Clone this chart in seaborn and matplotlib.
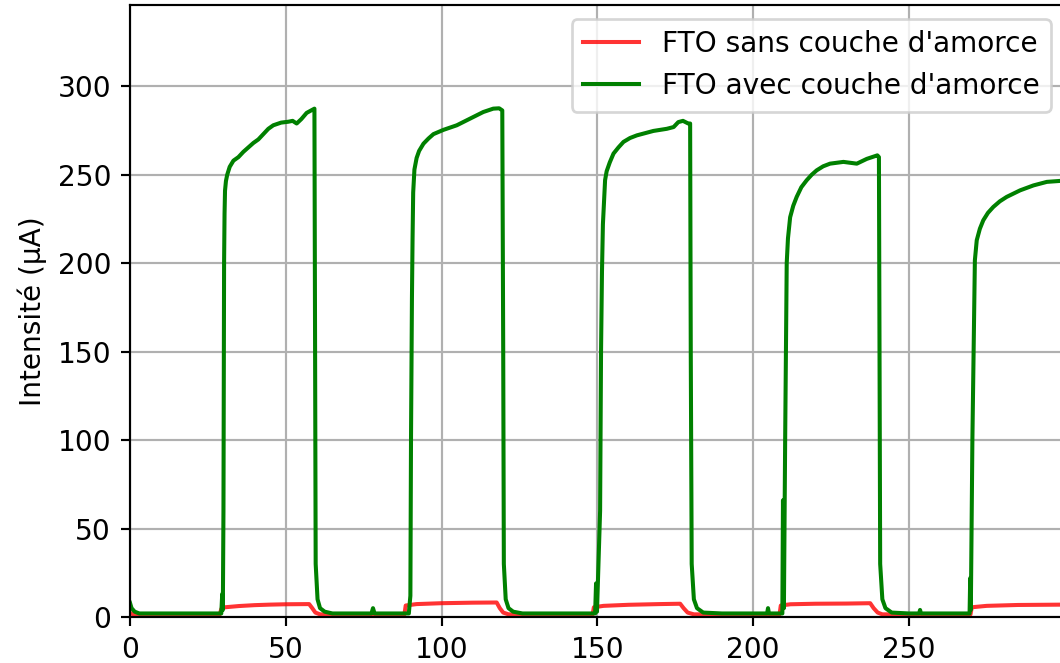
import matplotlib
matplotlib.use("Agg")
import matplotlib.pyplot as plt
import numpy as np
import pandas as pd
import seaborn as sns

# values: time (s) and current (uA)
t_red = [0, 1, 28.8, 29.3, 30.5, 35, 40, 45, 50, 57.5, 58.5, 59.5, 61,
         88.1, 88.5, 92, 100, 110, 117.7, 118.7, 119.8, 121.5,
         148.5, 148.9, 152, 160, 170, 176.6, 177.7, 179, 181,
         208.5, 208.9, 212, 220, 230, 237.6, 238.7, 240, 241.5,
         269.8, 270.2, 275, 285, 300]
i_red = [2.3, 1.5, 1.5, 4.5, 5.5, 6.2, 6.7, 7.0, 7.2, 7.3, 5, 2.5, 1.5,
         1.5, 6.5, 7.3, 7.8, 8.1, 8.2, 5, 2.5, 1.5,
         1.5, 5.5, 6.3, 6.9, 7.3, 7.5, 5, 2.5, 1.5,
         1.5, 6.5, 7.2, 7.5, 7.6, 7.8, 5, 2.5, 1.5,
         1.5, 5.5, 6.3, 6.8, 7.0]

t_green = [0, 0.5, 1.5, 3, 29.3, 29.6, 29.8, 30.0, 30.2, 30.35, 30.5, 30.8,
           31.2, 32, 33.2, 34.8, 36.4, 38, 39.6, 41.2, 42.8, 44.4, 46, 48.5,
           50.8, 52.2, 53.5, 55, 56.7, 59.2, 59.4, 59.6, 60.2, 61, 62.5, 65,
           77.5, 78, 78.5,
           89.5, 90.0, 90.2, 90.5, 90.7, 90.9, 91.3, 92, 92.8, 94.2, 95.8,
           97.4, 100.6, 104.9, 109.1, 113.4, 116.6, 118.5, 119.5, 119.8, 120,
           120.6, 121.5, 123, 126,
           149.3, 149.6, 149.9, 150.9, 151.2, 151.5, 151.8, 152.5, 153, 154,
           155.2, 156.8, 158.4, 160.5, 162.7, 168, 172.3, 174.5, 176, 177.5,
           179.2, 179.8, 180.0, 180.3, 181, 182, 184,
           190, 204.5, 204.8, 205.1,
           209.4, 209.6, 209.9, 210.3, 210.8, 211.2, 211.9, 212.9, 214,
           215.5, 217.2, 218.8, 220.4, 222.5, 224.7, 229, 233.3, 236.5,
           239.9, 240.4, 240.6, 240.8, 241.5, 242.5, 244.5,
           250, 253.3, 253.6, 253.9,
           269.5, 269.7, 269.9, 270.4, 271.2, 271.8, 272.8, 273.9, 275.4,
           277.1, 279.2, 281.4, 285.7, 290, 294.3, 298.6, 300]
i_green = [8, 5, 3, 2, 2, 13, 4, 60, 200, 228, 241, 246.5,
           250, 254.5, 258, 260, 263, 265.5, 268, 270, 273, 276, 278, 279.5,
           280, 280.5, 279, 281.5, 285, 287.4, 150, 30, 10, 5, 3, 2,
           2, 5, 2,
           2, 12, 100, 180, 214, 240, 253, 259.5, 263.5, 267.6, 270.5,
           273, 275.4, 278, 281.7, 285.5, 287.4, 287.6, 286.4, 150, 30,
           10, 5, 3, 2,
           2, 19, 3, 60, 150, 195, 222, 247, 252, 257,
           262, 265.5, 268.6, 270.8, 272.3, 274.8, 276, 277, 279.8, 280.5,
           279, 279, 150, 30, 10, 5, 2.5,
           2, 2, 5, 2,
           2, 66, 5, 100, 200, 214, 226, 232.5, 237.5,
           243, 246.9, 250, 252.5, 254.8, 256.3, 257.3, 256.3, 259,
           261, 260, 150, 30, 10, 5, 2.5,
           2, 2, 4, 2,
           2, 22, 4, 100, 201.7, 213, 219.5, 224.3, 228.5,
           231.8, 235, 237.5, 241.2, 244, 246, 246.6, 246.5]

df_red = pd.DataFrame({'t': t_red, 'I': i_red})
df_green = pd.DataFrame({'t': t_green, 'I': i_green})

plt.rcParams['font.size'] = 10.4

dpi = 194.4
fig = plt.figure(figsize=(1060 / dpi, 663 / dpi), dpi=dpi)
ax = fig.add_axes([130 / 1060, 46 / 663, 934.6 / 1060, 612 / 663])

sns.lineplot(data=df_red, x='t', y='I', color='red', alpha=0.8, lw=1.5,
             estimator=None, sort=False, label="FTO sans couche d'amorce", ax=ax)
sns.lineplot(data=df_green, x='t', y='I', color='green', lw=1.5,
             estimator=None, sort=False, label="FTO avec couche d'amorce", ax=ax)

ax.set(xlim=(0, 300), ylim=(0, 346), xlabel='', ylabel='Intensité (µA)')
ax.set_xticks([0, 50, 100, 150, 200, 250])
ax.set_yticks([0, 50, 100, 150, 200, 250, 300])
ax.grid(True)
ax.legend(loc='upper right')

fig.savefig('out.png', dpi=dpi)
